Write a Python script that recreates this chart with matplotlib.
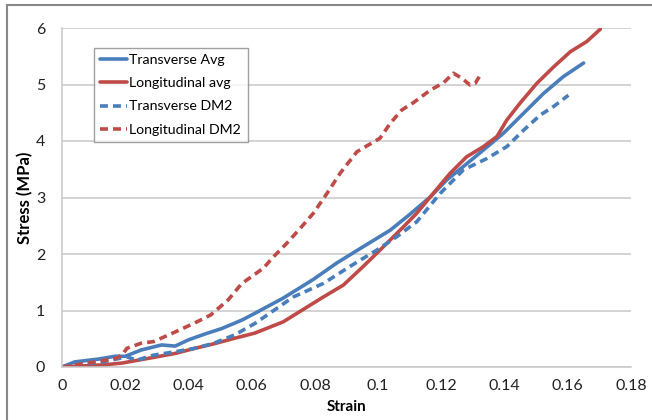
import matplotlib
matplotlib.use("Agg")
import matplotlib.pyplot as plt
from matplotlib.patches import Rectangle

plt.rcParams['font.family'] = ['Lato', 'DejaVu Sans']

# Transverse Avg (solid blue)
ta_x = [0.0, 0.004, 0.0115, 0.0168, 0.020, 0.025, 0.0315, 0.0358, 0.040, 0.045, 0.0505, 0.0569,
        0.061, 0.070, 0.0795, 0.0869, 0.0953, 0.1038, 0.110, 0.1165, 0.1217, 0.127, 0.1333,
        0.1397, 0.146, 0.1523, 0.1586, 0.165]
ta_y = [0.0, 0.09, 0.14, 0.19, 0.19, 0.30, 0.39, 0.37, 0.48, 0.58, 0.68, 0.83,
        0.95, 1.22, 1.55, 1.84, 2.13, 2.42, 2.70, 3.01, 3.31, 3.55, 3.84,
        4.14, 4.49, 4.84, 5.14, 5.38]

# Longitudinal avg (solid red)
la_x = [0.0, 0.0136, 0.019, 0.027, 0.0358, 0.042, 0.048, 0.0547, 0.061, 0.070, 0.0827, 0.089,
        0.0953, 0.1017, 0.108, 0.1122, 0.1165, 0.1228, 0.128, 0.1333, 0.1376, 0.1407, 0.1449,
        0.1502, 0.1555, 0.1608, 0.166, 0.1703]
la_y = [0.0, 0.04, 0.07, 0.15, 0.24, 0.33, 0.41, 0.51, 0.60, 0.80, 1.24, 1.45,
        1.78, 2.13, 2.48, 2.72, 3.01, 3.43, 3.72, 3.90, 4.08, 4.37, 4.67,
        5.02, 5.31, 5.58, 5.76, 5.98]

# Transverse DM2 (dashed blue)
td_x = [0.0, 0.006, 0.012, 0.0205, 0.0236, 0.029, 0.0358, 0.042, 0.048, 0.0547, 0.061, 0.0732,
        0.0827, 0.0911, 0.0996, 0.106, 0.1122, 0.1196, 0.127, 0.1344, 0.1407, 0.146, 0.1513,
        0.1555, 0.1602]
td_y = [0.0, 0.05, 0.08, 0.18, 0.12, 0.21, 0.27, 0.33, 0.42, 0.57, 0.77, 1.24,
        1.48, 1.78, 2.07, 2.31, 2.57, 3.07, 3.49, 3.69, 3.90, 4.19, 4.46,
        4.61, 4.81]

# Longitudinal DM2 (dashed red)
ld_x = [0.0, 0.0083, 0.0168, 0.019, 0.0205, 0.025, 0.029, 0.0358, 0.042, 0.047, 0.0495, 0.0526,
        0.0569, 0.0600, 0.0637, 0.0669, 0.0711, 0.0753, 0.0795, 0.0838, 0.088, 0.0933, 0.1006,
        0.1038, 0.1075, 0.1112, 0.1165, 0.1207, 0.1238, 0.1265, 0.1291, 0.1307, 0.1328]
ld_y = [0.0, 0.07, 0.15, 0.21, 0.33, 0.42, 0.45, 0.62, 0.78, 0.92, 1.04, 1.19,
        1.48, 1.60, 1.75, 1.95, 2.19, 2.45, 2.72, 3.07, 3.43, 3.81, 4.05,
        4.31, 4.55, 4.68, 4.90, 5.03, 5.20, 5.11, 4.99, 5.02, 5.21]

x_ticks = [0, 0.02, 0.04, 0.06, 0.08, 0.1, 0.12, 0.14, 0.16, 0.18]
x_tick_labels = ['0', '0.02', '0.04', '0.06', '0.08', '0.1', '0.12', '0.14', '0.16', '0.18']
y_ticks = [0, 1, 2, 3, 4, 5, 6]

BLUE = '#4a7ebb'
RED = '#be4b48'

fig = plt.figure(figsize=(6.52, 4.2), dpi=100)
fig.patches.append(Rectangle((7/652, -0.1), 1.2, (1 - 5/420) + 0.1, transform=fig.transFigure,
                             fill=False, edgecolor='#888888', linewidth=1.5, zorder=0))
ax = fig.add_axes([62/652, 1 - 367/420, 569/652, 339/420])

lw = 2.6
ax.plot(ta_x, ta_y, color=BLUE, lw=lw, label='Transverse Avg', solid_capstyle='round')
ax.plot(la_x, la_y, color=RED, lw=lw, label='Longitudinal avg', solid_capstyle='round')
ax.plot(td_x, td_y, color=BLUE, lw=lw, ls=(0, (2.2, 1.4)), label='Transverse DM2')
ax.plot(ld_x, ld_y, color=RED, lw=lw, ls=(0, (2.2, 1.4)), label='Longitudinal DM2')

ax.set_xlim(0, 0.18)
ax.set_ylim(0, 6)
ax.set_xticks(x_ticks)
ax.set_xticklabels(x_tick_labels)
ax.set_yticks(y_ticks)
ax.tick_params(axis='both', length=0, labelsize=11.5, colors='#222222')
ax.tick_params(axis='x', pad=9)
ax.tick_params(axis='y', pad=12)
ax.grid(axis='y', color='#c8c8c8', lw=1.1)
ax.set_axisbelow(True)
for s in ['top', 'right']:
    ax.spines[s].set_visible(False)
for s in ['left', 'bottom']:
    ax.spines[s].set_color('#c8c8c8')
    ax.spines[s].set_linewidth(1.1)

ax.set_xlabel('Strain', fontsize=11, fontweight='bold', labelpad=5)
ax.set_ylabel('Stress (MPa)', fontsize=12, fontweight='bold', labelpad=2)

leg = ax.legend(loc='upper left', bbox_to_anchor=(0.0562, 0.941), fontsize=10.2,
                frameon=True, fancybox=False, edgecolor='#888888', handlelength=1.9,
                handletextpad=0.15, borderpad=0.45, labelspacing=0.78, borderaxespad=0)
leg.get_frame().set_linewidth(1.0)

fig.savefig('out.png', dpi=100)
